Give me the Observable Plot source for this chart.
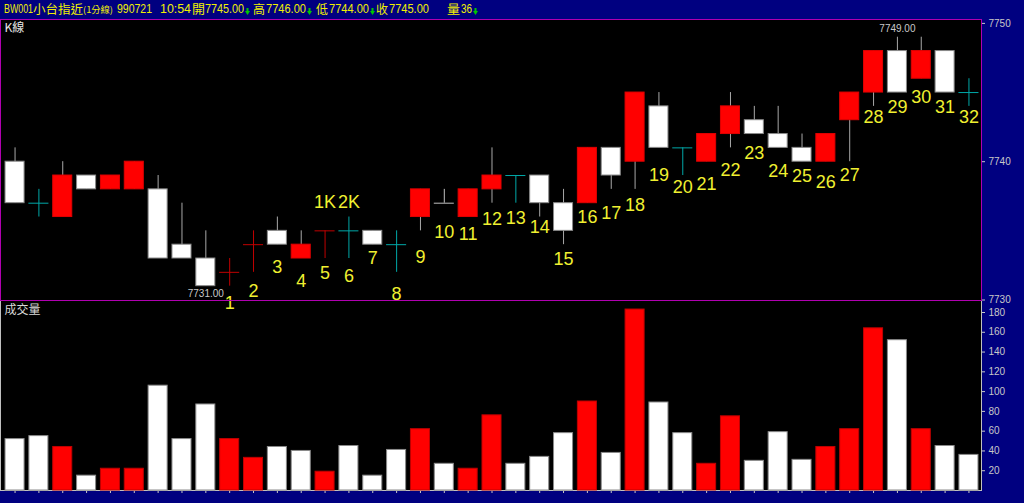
<!DOCTYPE html>
<html><head><meta charset="utf-8">
<script src="https://cdn.jsdelivr.net/npm/d3@7"></script>
<script src="https://cdn.jsdelivr.net/npm/@observablehq/plot@0.6"></script>
<style>
html,body{margin:0;padding:0;background:#000080;width:1024px;height:503px;overflow:hidden;}
#wrap{position:relative;width:1024px;height:503px;background:#000080;}
#wrap svg.chart{position:absolute;left:0;}
#hdr{position:absolute;left:0;top:0;width:1024px;height:19px;color:#f0f000;font:12px "Liberation Sans",Arial,sans-serif;z-index:5;}
#hdr span{position:absolute;top:3px;white-space:nowrap;line-height:12px;transform-origin:0 0;}
#hdr span.c{font:12.5px "Noto Sans CJK TC",sans-serif;line-height:12px;}
#hdr span.s{font:9px "Noto Sans CJK TC",sans-serif;top:4px;line-height:12px;}
#hdr span.a{top:8px;}
</style></head>
<body><div id="wrap"><div id="hdr"></div></div>
<script>
// ---- data (1-minute candles, 小台指近) ----
const openP  = [7740,7737,7736,7739,7738,7738,7738,7734,7733,7732,7734,7735,7733,7735,7735,7735,7734,7736,7737,7736,7738,7739,7739,7737,7737,7741,7740,7744,7741,7740,7742,7743,7742,7741,7740,7743,7745,7748,7746,7748,7745];
const highP  = [7741,7738,7740,7739,7739,7740,7739,7737,7735,7733,7735,7736,7735,7735,7736,7735,7735,7738,7738,7738,7741,7739,7739,7738,7741,7741,7745,7745,7741,7742,7745,7744,7744,7742,7742,7745,7748,7749,7749,7748,7746];
const lowP   = [7737,7736,7736,7738,7738,7738,7733,7733,7731,7731,7732,7734,7733,7733,7733,7734,7732,7735,7737,7736,7737,7737,7736,7734,7737,7738,7738,7741,7739,7740,7741,7742,7741,7740,7740,7740,7744,7745,7746,7745,7744];
const closeP = [7737,7737,7739,7738,7739,7740,7733,7733,7731,7732,7734,7734,7734,7735,7735,7734,7734,7738,7737,7738,7739,7739,7737,7735,7741,7739,7745,7741,7741,7742,7744,7742,7741,7740,7742,7745,7748,7745,7748,7745,7745];
const volume = [52,55,44,15,22,22,106,52,87,52,33,44,40,19,45,15,41,62,27,22,76,27,34,58,90,38,183,89,58,27,75,30,59,31,44,62,164,152,62,45,36];
// numbered labels 1..32 start at candle index 9; anchor prices
const labelStart = 9;
const labelPrice = [7729.75,7730.61,7732.35,7731.34,7731.92,7731.70,7733.00,7730.40,7733.09,7734.90,7734.74,7735.82,7735.89,7735.24,7732.93,7735.97,7736.28,7736.83,7739.00,7738.13,7738.35,7739.36,7740.59,7739.31,7738.93,7738.52,7739.00,7743.22,7743.94,7744.66,7743.94,7743.20];
const kTexts = ["1K","2K"];
const kIndex = [13,14];
const kPrice = [7737.05,7737.05];
const priceTicks = [7730,7740,7750];
const volTicks = [20,40,60,80,100,120,140,160,180];
const symbol = "BW001", symName = "小台指近", period = "(1分線)", dateStr = "990721", timeStr = "10:54";

const N = openP.length;
const idx = d3.range(N);
const RED = "#ff0000", WHITE = "#ffffff", WICK = "#a8a8a8";
const chg = i => i === 0 ? 0 : Math.sign(closeP[i] - closeP[i-1]);
const isDoji = i => openP[i] === closeP[i];
const bodyIdx = idx.filter(i => !isDoji(i));
const dojiIdx = idx.filter(isDoji);
const dojiColor = i => chg(i) > 0 ? "#c00000" : chg(i) < 0 ? "#c0c0c0" : "#00a8a8";

const xScale = {type: "band", domain: idx, range: [0, 983], paddingInner: 0.16, paddingOuter: 0.19};
const FONT = "Liberation Sans, Arial, sans-serif";

const labelIdx = labelPrice.map((p, k) => k);
const minIdx = d3.minIndex(lowP), maxIdx = d3.maxIndex(highP);

const topPlot = Plot.plot({
  width: 1024, height: 301,
  marginTop: 19, marginBottom: 1, marginLeft: 0, marginRight: 43,
  style: {background: "none", overflow: "visible", color: "#c8c8c8", fontSize: "10px", fontFamily: FONT},
  x: {...xScale, axis: null},
  y: {domain: [7730, 7750], range: [299.5, 22.9], axis: "right", ticks: priceTicks, tickSize: 3, tickPadding: 4, label: null, tickFormat: d => String(d)},
  marks: [
    Plot.frame({fill: "black", stroke: "none"}),
    Plot.ruleX(bodyIdx, {x: i => i, y1: i => lowP[i], y2: i => highP[i], stroke: WICK, strokeWidth: 1}),
    Plot.barY(bodyIdx, {x: i => i, y1: i => openP[i], y2: i => closeP[i],
      fill: i => closeP[i] > openP[i] ? RED : WHITE,
      stroke: i => closeP[i] > openP[i] ? "#e00000" : "#8a8a8a", strokeWidth: 1, insetLeft: 0.5, insetRight: 0.5}),
    Plot.ruleX(dojiIdx, {x: i => i, y1: i => lowP[i], y2: i => highP[i], stroke: dojiColor, strokeWidth: 1}),
    Plot.tickY(dojiIdx, {x: i => i, y: i => openP[i], stroke: dojiColor, strokeWidth: 1}),
    Plot.text(labelIdx, {x: k => k + labelStart, y: k => labelPrice[k], text: k => String(k + 1),
      fill: "#f0f030", fontSize: 18, fontFamily: FONT}),
    Plot.text(kTexts, {x: (d, k) => kIndex[k], y: (d, k) => kPrice[k], text: d => d,
      fill: "#f0f030", fontSize: 18, fontFamily: FONT}),
    Plot.text([minIdx], {x: i => i, y: i => lowP[i], dy: 8, text: i => lowP[i].toFixed(2), fill: "#c8c8c8", fontSize: 10, fontFamily: FONT, letterSpacing: -0.3}),
    Plot.text([maxIdx], {x: i => i, y: i => highP[i], dy: -8, text: i => highP[i].toFixed(2), fill: "#c8c8c8", fontSize: 10, fontFamily: FONT, letterSpacing: -0.3}),
    Plot.text(["K線"], {frameAnchor: "top-left", dx: 4, dy: 4, text: d => d, fill: "#e8e8e8", fontSize: 12, fontFamily: "Noto Sans CJK TC, sans-serif"}),
    Plot.frame({stroke: "#b000b0", fill: "none"})
  ]
});

const botPlot = Plot.plot({
  width: 1024, height: 203,
  marginTop: 0, marginBottom: 13, marginLeft: 0, marginRight: 43,
  style: {background: "none", overflow: "visible", color: "#c8c8c8", fontSize: "10px", fontFamily: FONT},
  x: {...xScale, axis: "bottom", tickSize: 3, tickFormat: () => "", label: null},
  y: {domain: [0, 180], range: [190, 12], axis: "right", ticks: volTicks, tickSize: 3, tickPadding: 4, label: null},
  marks: [
    Plot.frame({fill: "black", stroke: "#c0c0c0"}),
    Plot.barY(idx, {x: i => i, y: i => volume[i],
      fill: i => chg(i) > 0 ? RED : WHITE,
      stroke: i => chg(i) > 0 ? "#c00000" : "#8a8a8a", strokeWidth: 1, insetLeft: 0.5, insetRight: 0.5}),
    Plot.text(["成交量"], {frameAnchor: "top-left", dx: 4, dy: 5, text: d => d, fill: "#d8d8d8", fontSize: 12, fontFamily: "Noto Sans CJK TC, sans-serif"})
  ]
});

const wrap = document.getElementById("wrap");
botPlot.classList.add("chart"); botPlot.style.top = "300px";
topPlot.classList.add("chart"); topPlot.style.top = "0px";
wrap.insertBefore(botPlot, document.getElementById("hdr"));
wrap.insertBefore(topPlot, document.getElementById("hdr"));

// header built from the last candle; [text, left, width, class]
const L = N - 1;
const ARROW = '<svg width="5" height="7" style="display:block"><path d="M1.5 0h2v3h1.5l-2.5 4l-2.5-4h1.5z" fill="#00c800"/></svg>';
const segs = [
  [symbol, 4, 29, "n"], [symName, 33, 50, "c"], [period, 83, 30, "s"], [dateStr, 117, 35, "n"], [timeStr, 160, 31, "n"],
  ["開", 192, 13, "c"], [openP[L].toFixed(2), 205, 39, "n"], [ARROW, 245, 0, "a"],
  ["高", 253, 12, "c"], [highP[L].toFixed(2), 266, 40, "n"], [ARROW, 307, 0, "a"],
  ["低", 316, 12, "c"], [lowP[L].toFixed(2), 329, 40, "n"], [ARROW, 370, 0, "a"],
  ["收", 376, 12, "c"], [closeP[L].toFixed(2), 389, 40, "n"],
  ["量", 447, 13, "c"], [String(volume[L]), 461, 11, "n"], [ARROW, 473, 0, "a"]
];
const hdr = document.getElementById("hdr");
for (const [t, x, w, c] of segs) {
  const s = document.createElement("span");
  s.className = c; s.style.left = x + "px";
  if (c === "a") s.innerHTML = t; else s.textContent = t;
  hdr.appendChild(s);
  if (w > 0) {
    const actual = s.getBoundingClientRect().width;
    if (actual > 0) s.style.transform = `scaleX(${w / actual})`;
  }
}
</script>
</body></html>
